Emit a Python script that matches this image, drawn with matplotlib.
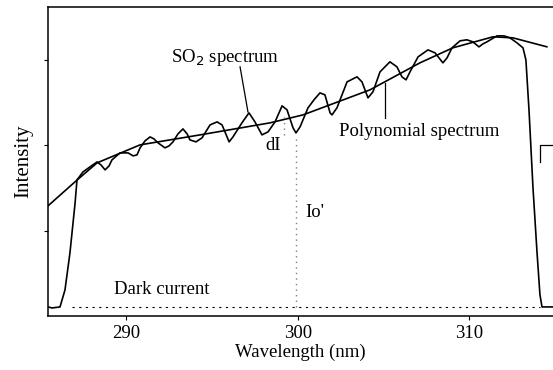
import matplotlib
matplotlib.use("Agg")
import matplotlib.pyplot as plt
import numpy as np

plt.rcParams['font.family'] = ['Liberation Serif', 'DejaVu Serif']

# SO2 spectrum (wavelength nm, intensity arb.)
so2_wl = [285.44, 285.68, 286.14, 286.43, 286.72, 287.02, 287.13, 287.48, 287.89,
          288.30, 288.53, 288.77, 289.00, 289.17, 289.64, 290.11, 290.40, 290.63,
          290.81, 291.10, 291.39, 291.62, 291.86, 292.26, 292.50, 292.73, 293.02,
          293.31, 293.55, 293.72, 294.07, 294.42, 294.89, 295.30, 295.59, 295.88,
          296.00, 296.23, 296.75, 297.16, 297.51, 297.92, 298.27, 298.68, 299.09,
          299.38, 299.73, 299.90, 300.14, 300.60, 300.95, 301.30, 301.59, 301.89,
          302.00, 302.29, 302.88, 303.46, 303.75, 304.10, 304.39, 304.80, 305.38,
          305.79, 306.08, 306.32, 306.55, 307.02, 307.60, 308.01, 308.47, 308.71,
          309.00, 309.47, 309.87, 310.22, 310.57, 310.81, 311.04, 311.62, 312.03,
          312.38, 312.79, 313.14, 313.31, 313.49, 313.72, 313.96, 314.13, 314.25,
          314.89]
so2_int = [0.106, 0.094, 0.106, 0.305, 0.739, 1.325, 1.594, 1.688, 1.747,
           1.805, 1.770, 1.712, 1.758, 1.829, 1.911, 1.911, 1.876, 1.887,
           1.970, 2.052, 2.098, 2.075, 2.028, 1.970, 1.993, 2.040, 2.134,
           2.192, 2.134, 2.063, 2.040, 2.087, 2.239, 2.274, 2.239, 2.099,
           2.040, 2.099, 2.263, 2.380, 2.274, 2.122, 2.157, 2.274, 2.462,
           2.415, 2.204, 2.145, 2.216, 2.438, 2.532, 2.614, 2.591, 2.380,
           2.356, 2.438, 2.743, 2.802, 2.743, 2.556, 2.626, 2.860, 2.978,
           2.919, 2.802, 2.767, 2.860, 3.036, 3.118, 3.083, 2.966, 3.024,
           3.142, 3.224, 3.236, 3.212, 3.153, 3.189, 3.212, 3.282, 3.282,
           3.259, 3.200, 3.142, 3.001, 2.415, 1.512, 0.739, 0.246, 0.106,
           0.106]

# smooth polynomial fit curve
poly_wl = [285.44, 287.14, 288.30, 290.81, 294.31, 298.39, 300.31, 304.21,
           307.13, 309.05, 311.39, 312.55, 314.53]
poly_int = [1.290, 1.594, 1.794, 2.005, 2.122, 2.263, 2.356, 2.649,
            2.966, 3.142, 3.271, 3.259, 3.154]

dark_level = 0.106
dark_range = [286.85, 314.15]
io_wl = 299.9
io_top = 2.10

fig = plt.figure(figsize=(5.53, 3.70), dpi=100)
ax = fig.add_axes([0.0868, 0.146, 0.9132, 0.835])

ax.plot(so2_wl, so2_int, color='black', lw=1.2, solid_joinstyle='round')
ax.plot(poly_wl, poly_int, color='black', lw=1.2, solid_joinstyle='round')

# dark current and Io' markers
ax.plot(dark_range, [dark_level, dark_level], color='black', lw=0.8,
        linestyle=(0, (2, 4)))
ax.plot([io_wl, io_wl], [dark_level, io_top], color='gray', lw=1.0,
        linestyle=(0, (1, 3)))
ax.plot([299.2, 299.2], [2.12, 2.38], color='gray', lw=1.0,
        linestyle=(0, (1, 3)))

# pointer lines for labels
ax.plot([296.64, 297.10], [2.919, 2.392], color='black', lw=0.9)
ax.plot([305.12, 305.12], [2.73, 2.32], color='black', lw=0.9)

# edge of neighbouring panel
ax.plot([314.89, 314.13, 314.13], [2.005, 2.005, 1.805], color='black', lw=0.9)

fs = 13.5
ax.text(295.78, 3.025, 'SO$_2$ spectrum', ha='center', va='center', fontsize=fs)
ax.text(298.56, 1.993, 'dI', ha='center', va='center', fontsize=fs)
ax.text(307.07, 2.157, 'Polynomial spectrum', ha='center', va='center', fontsize=fs)
ax.text(301.01, 1.207, "Io'", ha='center', va='center', fontsize=fs)
ax.text(292.09, 0.305, 'Dark current', ha='center', va='center', fontsize=fs)

ax.set_xlim(285.44, 314.89)
ax.set_ylim(0, 3.62)
ax.set_xticks([290, 300, 310])
ax.set_yticks([1, 2, 3])
ax.set_yticklabels([])
ax.tick_params(direction='out', length=3, labelsize=fs)
ax.spines['right'].set_visible(False)
for s in ['left', 'top', 'bottom']:
    ax.spines[s].set_linewidth(1.1)

ax.set_xlabel('Wavelength (nm)', fontsize=fs, labelpad=1)
ax.set_ylabel('Intensity', fontsize=15, labelpad=4)

fig.savefig('out.png', dpi=100)
